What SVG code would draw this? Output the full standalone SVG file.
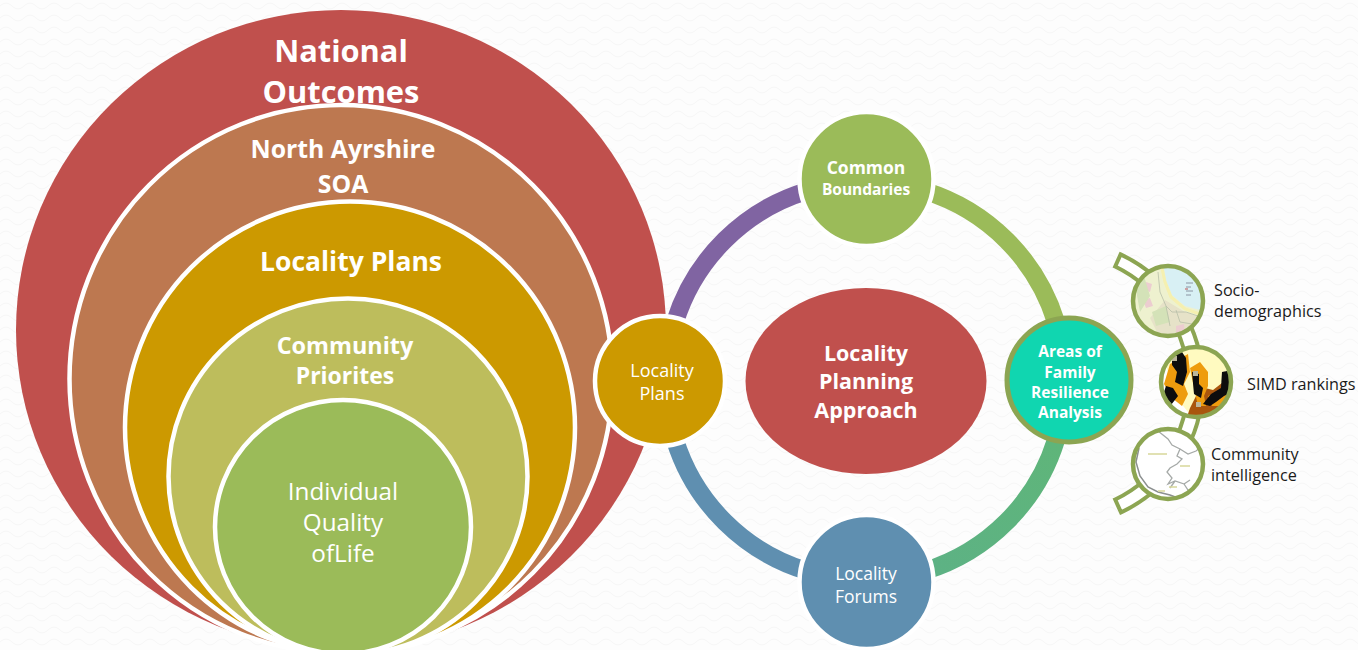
<svg xmlns="http://www.w3.org/2000/svg" width="1358" height="650" viewBox="0 0 1358 650">
<style>
text{font-family:"Open Sans","Noto Sans","Liberation Sans",sans-serif;text-anchor:middle}
.w{fill:#fff}.b{font-weight:700}.k{fill:#1a1a1a;text-anchor:start;font-size:16.200px}
.big{stroke:#fff;stroke-width:4.500}
.arc{fill:none;stroke-width:18}
.thumb{fill:none;stroke:#8ca552;stroke-width:4.500}
</style>
<defs>
<pattern id="bg" width="24" height="12" patternUnits="userSpaceOnUse"><path d="M0 6Q6 0 12 6T24 6" fill="none" stroke="#f6f6f6" stroke-width="1"/></pattern>
<linearGradient id="g2" gradientUnits="userSpaceOnUse" x1="1050" y1="440" x2="940" y2="570"><stop offset="0" stop-color="#5fb57a"/><stop offset="1" stop-color="#5db284"/></linearGradient>
<filter id="soft" x="-5%" y="-5%" width="110%" height="110%"><feGaussianBlur stdDeviation="0.600"/></filter>
<clipPath id="c1"><circle cx="1168" cy="301" r="35"/></clipPath>
<clipPath id="c2"><circle cx="1196" cy="382" r="35"/></clipPath>
<clipPath id="c3"><circle cx="1168" cy="464" r="35"/></clipPath>
</defs>
<rect width="1358" height="650" fill="#fdfdfd"/>
<rect width="1358" height="650" fill="url(#bg)"/>

<g id="national-outcomes"><ellipse cx="341" cy="330" rx="325" ry="320" fill="#c0504d"/>
<text class="w b" x="341" y="62" font-size="30.800">National</text><text class="w b" x="341" y="103" font-size="30.800">Outcomes</text></g>
<g id="north-ayrshire-soa"><ellipse class="big" cx="341" cy="379" rx="271.500" ry="274" fill="#bd7850"/>
<text class="w b" x="343" y="158" font-size="24.800">North Ayrshire</text><text class="w b" x="343" y="193" font-size="24.800">SOA</text></g>
<g id="locality-plans-circle"><ellipse class="big" cx="350" cy="427.500" rx="225" ry="226" fill="#cc9900"/>
<text class="w b" x="351" y="271" font-size="26.500">Locality Plans</text></g>
<g id="community-priorities"><ellipse class="big" cx="348" cy="476.500" rx="179.500" ry="178" fill="#bdbd5c"/>
<text class="w b" x="345" y="354" font-size="23.400">Community</text><text class="w b" x="345" y="384" font-size="23">Priorites</text></g>
<g id="individual-quality"><ellipse class="big" cx="343" cy="527" rx="128" ry="127" fill="#9bbb59"/>
<text class="w" x="343" y="500" font-size="24.300">Individual</text><text class="w" x="343" y="531" font-size="24.300">Quality</text><text class="w" x="343" y="562" font-size="24.300">ofLife</text></g>

<g id="connectors">
<path class="arc" stroke="#8064a2" d="M675 322A199 199 0 0 1 807 191"/>
<path class="arc" stroke="#9bbb59" d="M925 191A199 199 0 0 1 1056 322"/>
<path class="arc" stroke="url(#g2)" d="M1056 440A199 199 0 0 1 925 571"/>
<path class="arc" stroke="#5f8fb0" d="M807 571A199 199 0 0 1 675 440"/>
<path fill="#fff" stroke="#8ca552" stroke-width="4" d="M1120.600 254.400L1115.200 266.500A129.500 129.500 0 0 1 1115.200 499.500L1121 512.400A142.500 142.500 0 0 0 1120.600 254.400Z"/>
</g>

<g id="locality-approach"><ellipse cx="866" cy="381" rx="120.500" ry="93" fill="#c0504d"/>
<text class="w b" x="866" y="361" font-size="21.500">Locality</text><text class="w b" x="866" y="389" font-size="21.500">Planning</text><text class="w b" x="866" y="418" font-size="21.500">Approach</text></g>
<g id="common-boundaries"><circle class="big" cx="866.500" cy="179" r="67" fill="#9bbb59"/>
<text class="w b" x="866" y="174" font-size="17.500">Common</text><text class="w b" x="866" y="195" font-size="15.500">Boundaries</text></g>
<g id="locality-forums"><circle class="big" cx="866.500" cy="582" r="67" fill="#5f8fb0"/>
<text class="w" x="866" y="580" font-size="17.500">Locality</text><text class="w" x="866" y="603" font-size="17.500">Forums</text></g>
<g id="locality-plans"><circle class="big" cx="660" cy="381" r="65" fill="#cc9900"/>
<text class="w" x="662" y="377" font-size="18">Locality</text><text class="w" x="662" y="400" font-size="18">Plans</text></g>
<g id="family-resilience"><circle cx="1069" cy="380" r="62" fill="#10d6b0" stroke="#8ca552" stroke-width="5"/>
<text class="w b" x="1070" y="357" font-size="15.500">Areas of</text><text class="w b" x="1070" y="378" font-size="15.500">Family</text><text class="w b" x="1070" y="398" font-size="15.500">Resilience</text><text class="w b" x="1070" y="418" font-size="15.500">Analysis</text></g>

<g id="socio-demographics">
<circle cx="1168" cy="301" r="36" fill="#eef1cf"/>
<g clip-path="url(#c1)"><g filter="url(#soft)">
<path fill="#d8f0f4" d="M1163 262H1208V312L1200 310L1185 306L1172 295L1166 280Z"/>
<path fill="none" stroke="#f5f0b0" stroke-width="3" d="M1161 264L1165 282L1171 297L1185 309L1200 314"/>
<path fill="#e6e2c8" d="M1165 300L1185 312L1198 316L1190 335L1160 338L1150 318Z"/>
<path fill="#eccdd0" d="M1146 282L1152 284L1150 292L1145 290ZM1143 300L1150 298L1153 306L1146 308ZM1176 326L1184 324L1185 334L1176 334Z"/>
<path fill="#d4e2b8" d="M1136 290L1144 276L1150 296L1140 312ZM1152 312L1166 306L1170 322L1156 326Z"/>
<path fill="none" stroke="#b8bfa8" stroke-width="0.800" d="M1158 272L1160 292L1166 306L1172 312L1186 312L1198 316M1166 306L1170 326M1176 310L1180 322L1192 324"/>
<path fill="none" stroke="#7a7f90" stroke-width="0.800" d="M1186 283H1193M1186 287H1191M1186 291H1193M1186 295H1191"/>
<path fill="none" stroke="#c05050" stroke-width="1" d="M1185 289h3"/>
</g></g>
<circle class="thumb" cx="1168" cy="301" r="35"/>
<text class="k" x="1214" y="296">Socio-</text><text class="k" x="1214" y="317">demographics</text></g>

<g id="simd-rankings">
<circle cx="1196" cy="382" r="36" fill="#fffac0"/>
<g clip-path="url(#c2)"><g filter="url(#soft)">
<path fill="#fff" d="M1158 378L1166 364L1172 392L1188 412L1190 420H1158Z"/>
<path fill="#a9560f" d="M1186 420L1190 408L1197 394L1205 388L1213 390L1222 383L1232 380V420Z"/>
<path fill="#ee9c10" d="M1164 384L1170 364L1188 354L1190 372L1184 384L1188 394L1182 406L1172 398ZM1190 368L1200 362L1208 372L1208 386L1204 396L1206 406L1198 406L1194 388ZM1208 396L1222 390L1232 384V400L1220 406L1212 406Z"/>
<path fill="#0b0b0b" d="M1172 356L1182 352L1186 358L1187 372L1183 386L1175 382L1177 372L1172 365ZM1166 386L1173 388L1178 396L1171 405L1162 398ZM1192 372L1199 374L1199 384L1203 388L1201 398L1194 394ZM1222 372L1232 370V392L1224 396L1216 402L1210 406L1203 404L1211 394L1221 388Z"/>
<path fill="#bbb69a" d="M1172 356h5v5h-5ZM1193 371h5v5h-5ZM1196 402h5v5h-5Z"/>
<path fill="none" stroke="#c8c8c8" stroke-width="1" d="M1162 398Q1172 400 1178 416M1162 408Q1170 410 1172 418"/>
</g></g>
<circle class="thumb" cx="1196" cy="382" r="35"/>
<text class="k" x="1247" y="390">SIMD rankings</text></g>

<g id="community-intelligence">
<circle cx="1168" cy="464" r="36" fill="#fff"/>
<g clip-path="url(#c3)"><g filter="url(#soft)">
<path fill="none" stroke="#a6aaa8" stroke-width="1.300" d="M1158 431L1168 439L1172 445L1180 449L1177 456L1182 459L1177 464L1170 468L1167 472L1172 478L1168 484L1175 481L1184 484L1188 490L1193 494M1180 449L1188 454L1196 451L1201 447M1190 480L1184 484M1175 481L1170 488"/>
<path fill="none" stroke="#8c9090" stroke-width="1.500" d="M1139 448L1136 462L1140 476L1148 487L1158 492L1170 495L1178 498"/>
<path fill="none" stroke="#d8d89a" stroke-width="1.500" d="M1148 454H1167M1180 466H1190M1158 491H1165M1169 487H1177"/>
</g></g>
<circle class="thumb" cx="1168" cy="464" r="35"/>
<text class="k" x="1211" y="460">Community</text><text class="k" x="1211" y="481">intelligence</text></g>
</svg>
